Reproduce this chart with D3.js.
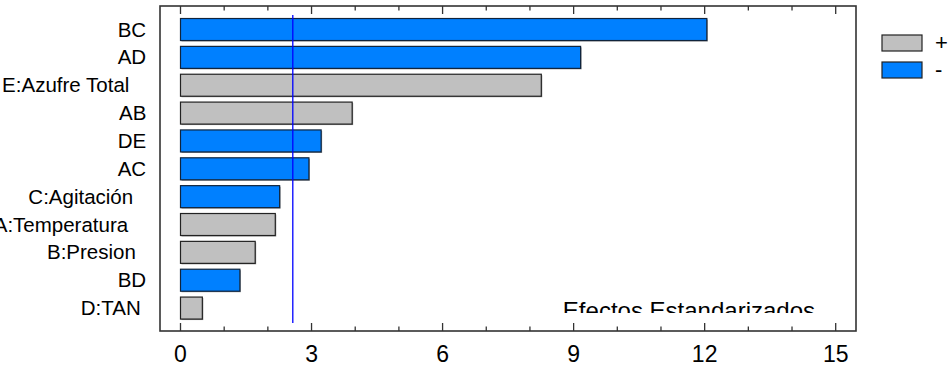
<!DOCTYPE html>
<html>
<head>
<meta charset="utf-8">
<script src="https://cdn.jsdelivr.net/npm/d3@7"></script>
<style>
  body { margin: 0; background: #fff; }
  svg { display: block; }
</style>
</head>
<body>
<div id="chart"></div>
<script>
// Pareto chart data (standardized effects)
const terms = ["BC", "AD", "E:Azufre Total", "AB", "DE", "AC", "C:Agitación", "A:Temperatura", "B:Presion", "BD", "D:TAN"];
const effects = [12.05, 9.16, 8.26, 3.93, 3.22, 2.94, 2.27, 2.17, 1.71, 1.36, 0.5];
const signs = ["-", "-", "+", "+", "-", "-", "-", "+", "+", "-", "+"];
const xTicks = [0, 3, 6, 9, 12, 15];
const criticalValue = 2.571;
const legendItems = ["+", "-"];

const colors = {
  plus: "#c0c0c0",
  minus: "#0080ff",
  line: "#0000ff",
  frame: "#333333",
};

const width = 949,
  height = 367;
const frame = { left: 160, right: 856, top: 6, bottom: 331 };

const svg = d3
  .select("#chart")
  .append("svg")
  .attr("width", width)
  .attr("height", height)
  .style("font-family", "'Liberation Sans', Arial, sans-serif");

svg.append("rect").attr("width", width).attr("height", height).attr("fill", "#fff");

const x = d3.scaleLinear().domain([0, 15]).range([180.5, 835.7]);
const y = d3
  .scaleBand()
  .domain(terms)
  .range([15.6, 322])
  .paddingInner(0.21)
  .paddingOuter(0.105);

// bars, with a thin shadow like the original
const bars = svg.append("g");
terms.forEach((t, i) => {
  bars
    .append("rect")
    .attr("x", x(0) + 1)
    .attr("y", y(t) + 1)
    .attr("width", x(effects[i]) - x(0))
    .attr("height", y.bandwidth())
    .attr("fill", "#9a9a9a");
  bars
    .append("rect")
    .attr("x", x(0))
    .attr("y", y(t))
    .attr("width", x(effects[i]) - x(0))
    .attr("height", y.bandwidth())
    .attr("fill", signs[i] === "+" ? colors.plus : colors.minus)
    .attr("stroke", signs[i] === "+" ? "#222" : "#10243c")
    .attr("stroke-width", 1.2);
});

// critical value line
svg
  .append("line")
  .attr("x1", x(criticalValue))
  .attr("x2", x(criticalValue))
  .attr("y1", 15)
  .attr("y2", 323)
  .attr("stroke", colors.line)
  .attr("stroke-width", 1.3);

// frame
svg
  .append("rect")
  .attr("x", frame.left)
  .attr("y", frame.top)
  .attr("width", frame.right - frame.left)
  .attr("height", frame.bottom - frame.top)
  .attr("fill", "none")
  .attr("stroke", colors.frame)
  .attr("stroke-width", 1.6);

// ticks top and bottom (minor every 1, major every 3)
const allTicks = d3.range(0, 16);
const tickG = svg.append("g").attr("stroke", colors.frame).attr("stroke-width", 1.3);
allTicks.forEach((v) => {
  const len = v % 3 === 0 ? 8 : 4.5;
  tickG.append("line").attr("x1", x(v)).attr("x2", x(v)).attr("y1", frame.bottom).attr("y2", frame.bottom - len);
  tickG.append("line").attr("x1", x(v)).attr("x2", x(v)).attr("y1", frame.top).attr("y2", frame.top + len);
});

svg
  .append("g")
  .selectAll("text")
  .data(xTicks)
  .join("text")
  .attr("x", (d) => x(d))
  .attr("y", 362)
  .attr("text-anchor", "middle")
  .attr("font-size", 23)
  .attr("fill", "#000")
  .text((d) => d);

// category labels (original layout was measured with a wider font, so long labels drift left)
svg
  .append("g")
  .selectAll("text")
  .data(terms)
  .join("text")
  .attr("y", (d) => y(d) + y.bandwidth() / 2 + 7)
  .attr("font-size", 20.5)
  .attr("fill", "#000")
  .text((d) => d)
  .each(function () {
    const w = this.getComputedTextLength();
    d3.select(this).attr("x", 151 - 1.17 * w);
  });

// axis title, clipped like in the original
svg
  .append("clipPath")
  .attr("id", "titleClip")
  .append("rect")
  .attr("x", 0)
  .attr("y", 0)
  .attr("width", width)
  .attr("height", 313);

svg
  .append("text")
  .attr("clip-path", "url(#titleClip)")
  .attr("x", 815)
  .attr("y", 319)
  .attr("text-anchor", "end")
  .attr("font-size", 24)
  .attr("fill", "#000")
  .text("Efectos Estandarizados");

// legend
const legend = svg.append("g");
legendItems.forEach((s, i) => {
  const ly = 35 + i * 27;
  legend
    .append("rect")
    .attr("x", 882)
    .attr("y", ly)
    .attr("width", 40)
    .attr("height", 16)
    .attr("fill", s === "+" ? colors.plus : colors.minus)
    .attr("stroke", "#222")
    .attr("stroke-width", 1.2);
  legend
    .append("text")
    .attr("x", 935)
    .attr("y", ly + 15)
    .attr("font-size", 22)
    .attr("fill", "#000")
    .text(s);
});
</script>
</body>
</html>
